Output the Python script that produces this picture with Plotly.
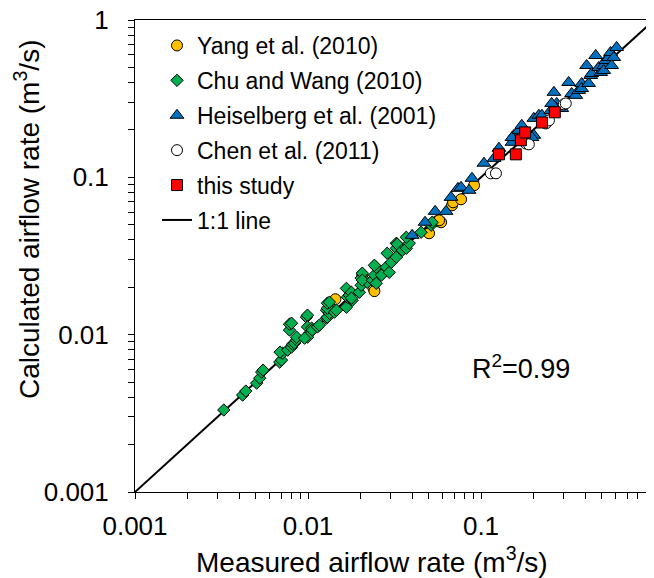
import plotly.graph_objects as go

# ---- data (m3/s) ----
yang_meas = [0.0144, 0.0206, 0.0239, 0.0242, 0.0501, 0.0557, 0.0588, 0.0573, 0.0680, 0.0690, 0.0767, 0.0912]
yang_calc = [0.0168, 0.0239, 0.0197, 0.0189, 0.0441, 0.0526, 0.0518, 0.0533, 0.0664, 0.0694, 0.0725, 0.0890]

chu_meas = [0.00326, 0.00419, 0.00437, 0.00505, 0.00526, 0.0054, 0.0055, 0.00686, 0.00703, 0.00713,
            0.0069, 0.00762, 0.00803, 0.00815, 0.00836, 0.00859, 0.00859, 0.00782, 0.00782, 0.00803,
            0.0098, 0.00993, 0.00993, 0.0102, 0.00993, 0.00955, 0.0105, 0.0106, 0.01135, 0.01164,
            0.0128, 0.01294, 0.0128, 0.0133, 0.01384, 0.01294, 0.01294, 0.0133, 0.01423, 0.0146,
            0.01667, 0.0169, 0.01667, 0.01734, 0.01782, 0.01803, 0.01782, 0.0198, 0.0203, 0.0203,
            0.0206, 0.0220, 0.0206, 0.0236, 0.0242, 0.0248, 0.0248, 0.0242, 0.0266, 0.0283,
            0.0287, 0.0295, 0.0303, 0.0324, 0.0324, 0.0328, 0.0351, 0.0370, 0.0385, 0.0370,
            0.0324, 0.0451, 0.0515, 0.0522]
chu_calc = [0.00332, 0.00413, 0.00438, 0.00492, 0.00529, 0.00578, 0.00595, 0.00669, 0.00689, 0.00763,
            0.00774, 0.00797, 0.00833, 0.0087, 0.00883, 0.00923, 0.00964, 0.0107, 0.01166, 0.01183,
            0.01291, 0.0133, 0.0112, 0.0102, 0.00964, 0.0095, 0.0110, 0.0107, 0.0112, 0.0115,
            0.01273, 0.01291, 0.0143, 0.0137, 0.0143, 0.01473, 0.01585, 0.0161, 0.0139, 0.0143,
            0.01495, 0.0173, 0.0197, 0.01782, 0.0186, 0.01656, 0.01706, 0.0186, 0.0206, 0.0229,
            0.0246, 0.0215, 0.0222, 0.0222, 0.0239, 0.0268, 0.0212, 0.0276, 0.0239, 0.0268,
            0.0329, 0.0249, 0.0288, 0.0354, 0.0381, 0.0376, 0.0344, 0.0354, 0.0381, 0.0416,
            0.0311, 0.0448, 0.0496, 0.0518]

heis_meas = [0.0400, 0.0475, 0.0543, 0.0628, 0.0671, 0.0736, 0.0767, 0.0853, 0.0887, 0.104,
             0.119, 0.127, 0.151, 0.155, 0.151, 0.166, 0.172, 0.182, 0.202, 0.197,
             0.202, 0.216, 0.225, 0.253, 0.274, 0.264, 0.270, 0.293, 0.256, 0.321,
             0.334, 0.353, 0.367, 0.382, 0.382, 0.408, 0.419, 0.431, 0.436, 0.460,
             0.479, 0.492, 0.512, 0.512, 0.525, 0.547, 0.561, 0.585, 0.608, 0.569]
heis_calc = [0.0428, 0.0518, 0.0608, 0.0608, 0.0746, 0.0851, 0.0864, 0.0827, 0.0986, 0.123,
             0.132, 0.153, 0.167, 0.185, 0.179, 0.199, 0.214, 0.190, 0.185, 0.179,
             0.237, 0.248, 0.248, 0.266, 0.295, 0.347, 0.278, 0.274, 0.295, 0.401,
             0.341, 0.332, 0.357, 0.395, 0.367, 0.514, 0.395, 0.444, 0.457, 0.595,
             0.499, 0.464, 0.514, 0.478, 0.553, 0.578, 0.622, 0.578, 0.669, 0.514]

chen_meas = [0.114, 0.122, 0.182, 0.189, 0.237, 0.247, 0.301, 0.309]
chen_calc = [0.106, 0.106, 0.164, 0.162, 0.220, 0.230, 0.291, 0.295]

this_meas = [0.127, 0.159, 0.170, 0.180, 0.225, 0.267]
this_calc = [0.140, 0.140, 0.172, 0.193, 0.223, 0.259]

line_x = [0.001, 1]
line_y = [0.001, 1]

# tick positions (decades labelled, intermediate ones unlabelled)
decades = [0.001, 0.01, 0.1, 1]
decade_text = ["0.001", "0.01", "0.1", "1"]
tick_vals = []
tick_text = []
for d, t in zip(decades, decade_text):
    tick_vals.append(d)
    tick_text.append(t)
    if d < 1:
        for m in range(2, 10):
            tick_vals.append(m * d)
            tick_text.append("")

FONT = "Liberation Sans, Arial, sans-serif"

# page offset of the default HTML body margin
OFF = 8
W, H = 654 - OFF, 578 - OFF
PL, PT, PB = 135, 20, 492          # plot area left / top / bottom on the page
PW, PH = 654 - PL, PB - PT

def px(xpage):
    return (xpage - PL) / PW

def py(ypage):
    return (PB - ypage) / PH

fig = go.Figure()

fig.add_trace(go.Scatter(x=line_x, y=line_y, mode="lines", name="1:1 line",
                         line=dict(color="black", width=2),
                         legendrank=6, legendgroup="g6"))

def mk(x, y, name, sym, color, size, rank):
    fig.add_trace(go.Scatter(x=x, y=y, mode="markers", name=name,
                             marker=dict(symbol=sym, color=color, size=size,
                                         line=dict(color="black", width=1)),
                             legendrank=rank, legendgroup="g%d" % rank))

mk(yang_meas, yang_calc, "Yang et al. (2010)", "circle", "#FFC000", 11, 1)
mk(chu_meas, chu_calc, "Chu and Wang (2010)", "diamond", "#00B050", 9.5, 2)
mk(heis_meas, heis_calc, "Heiselberg et al. (2001)", "triangle-up", "#0070C0", 12, 3)
mk(chen_meas, chen_calc, "Chen et al. (2011)", "circle", "white", 11, 4)
mk(this_meas, this_calc, "this study", "square", "#FF0000", 11, 5)

axis_common = dict(
    type="log", range=[-3, 0], showline=True, linecolor="black", linewidth=1,
    ticks="outside", ticklen=6, tickwidth=1, tickcolor="black",
    tickmode="array", tickvals=tick_vals, ticktext=tick_text,
    tickfont=dict(size=26, color="black", family=FONT),
    ticklabeloverflow="allow",
    showgrid=False, zeroline=False, automargin=False,
)

fig.update_layout(
    template="none",
    width=W, height=H,
    margin=dict(l=PL - OFF, r=0, t=PT - OFF, b=578 - PB, autoexpand=False),
    paper_bgcolor="white", plot_bgcolor="white",
    font=dict(family=FONT, color="black"),
    xaxis=dict(axis_common, mirror=True, ticklabelstandoff=5),
    yaxis=dict(axis_common, ticklabelstandoff=14),
    showlegend=True,
    legend=dict(x=px(157), y=py(24), xanchor="left", yanchor="top",
                bgcolor="rgba(0,0,0,0)", borderwidth=0,
                font=dict(size=23, color="black", family=FONT),
                traceorder="grouped", tracegroupgap=2),
    annotations=[
        dict(text="Measured airflow rate (m<sup>3</sup>/s)", xref="paper", yref="paper",
             x=px(372), y=py(560), showarrow=False,
             font=dict(size=28, color="black", family=FONT), xanchor="center", yanchor="middle"),
        dict(text="Calculated airflow rate (m<sup>3</sup>/s)", xref="paper", yref="paper",
             x=px(27), y=py(220), showarrow=False, textangle=-90,
             font=dict(size=28, color="black", family=FONT), xanchor="center", yanchor="middle"),
        dict(text="R<sup>2</sup>=0.99", xref="paper", yref="paper",
             x=px(521), y=py(367), showarrow=False,
             font=dict(size=27, color="black", family=FONT), xanchor="center", yanchor="middle"),
    ],
)

fig.write_html("out.html")
